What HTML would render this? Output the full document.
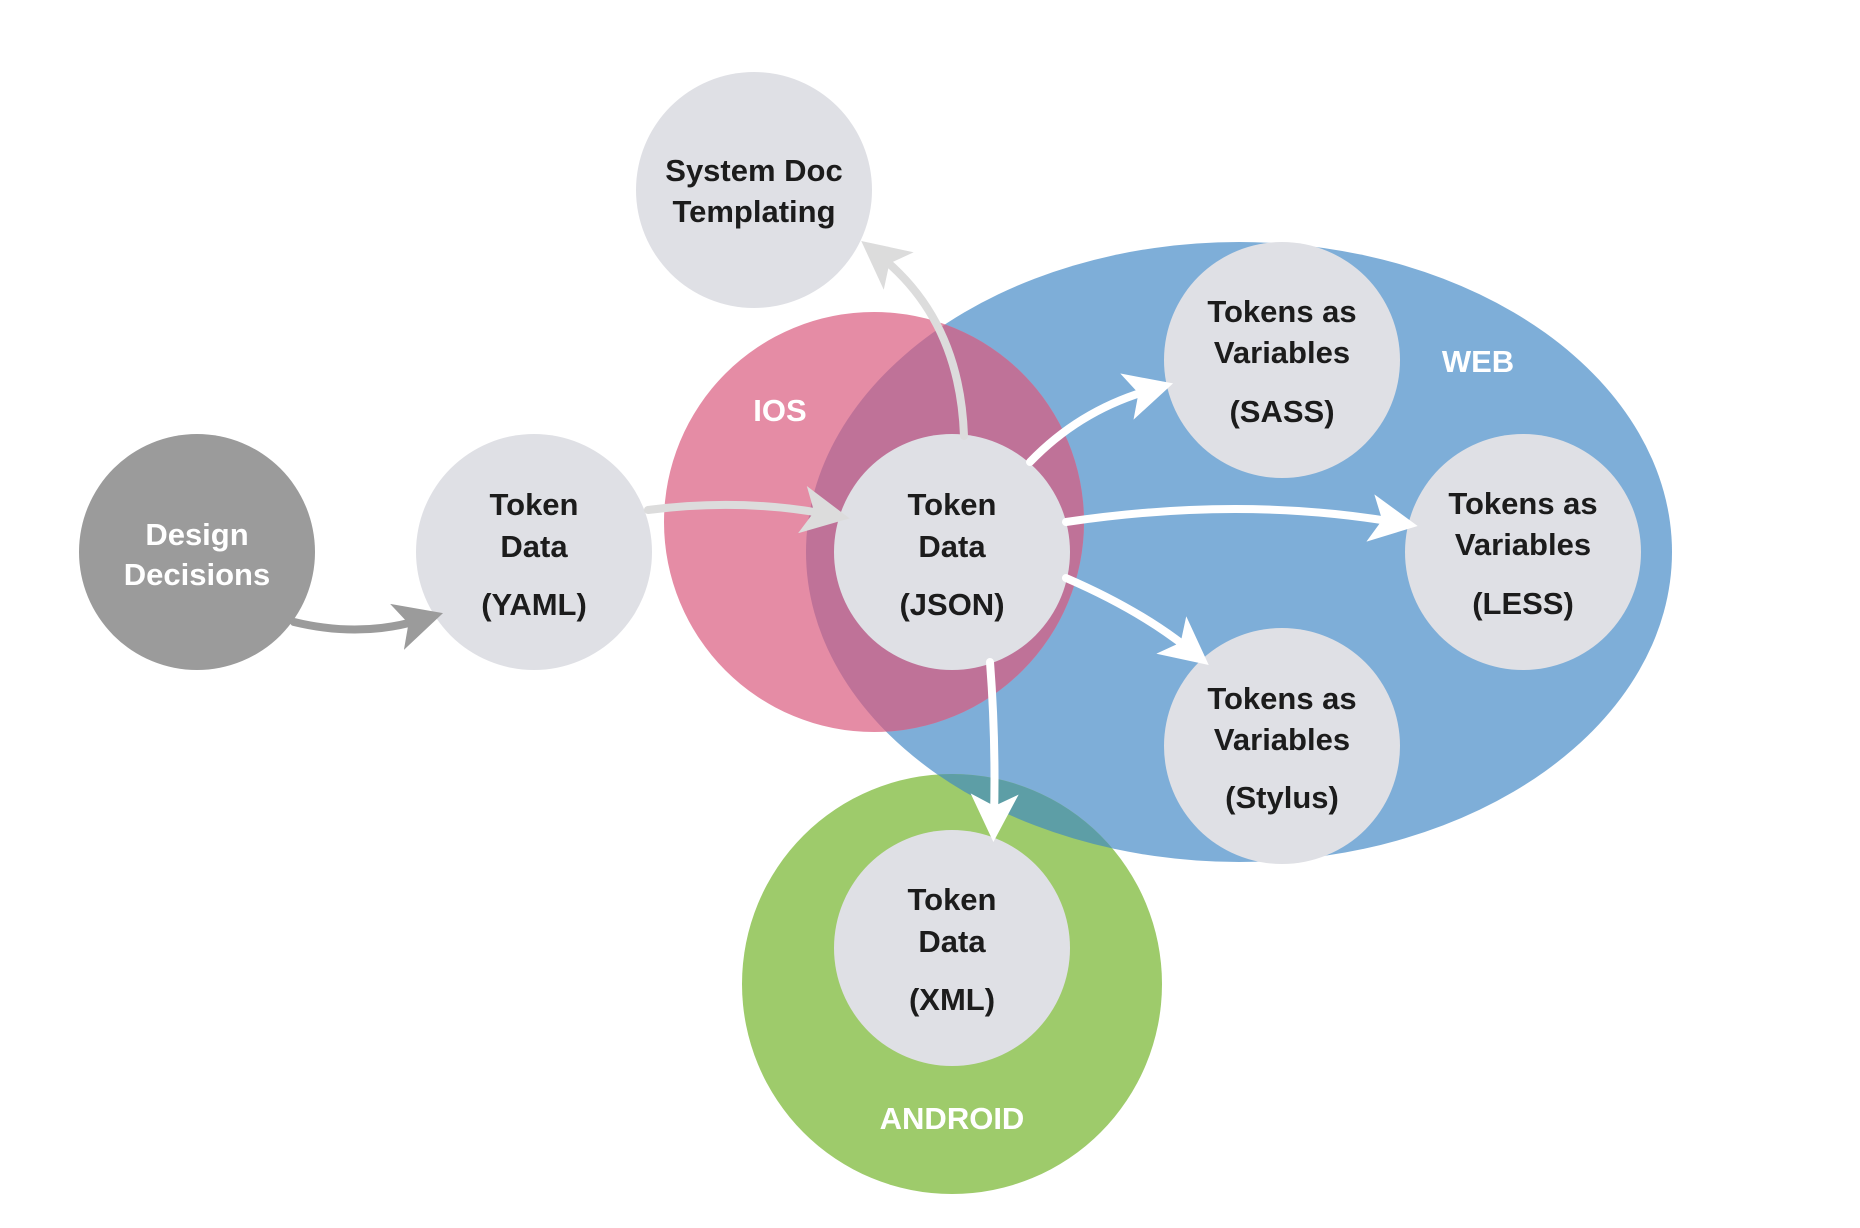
<!DOCTYPE html>
<html><head><meta charset="utf-8"><style>
html,body{margin:0;padding:0;background:#fff;}
svg{display:block;}
text{font-family:"Liberation Sans",sans-serif;font-weight:bold;font-size:31px;text-anchor:middle;fill:#1c1c1c;}
.lbl{fill:#fff;font-size:31px;}
</style></head><body>
<svg width="1860" height="1228" viewBox="0 0 1860 1228">
<defs>
<clipPath id="ios"><circle cx="874" cy="522" r="210"/></clipPath>
<clipPath id="and"><circle cx="952" cy="984" r="210"/></clipPath>
<marker id="mw" markerWidth="6" markerHeight="6" refX="3" refY="3" orient="auto" markerUnits="strokeWidth"><path d="M0,0 L6,3 L0,6 L1.5,3z" fill="#fff"/></marker>
<marker id="ml" markerWidth="6" markerHeight="6" refX="3" refY="3" orient="auto" markerUnits="strokeWidth"><path d="M0,0 L6,3 L0,6 L1.5,3z" fill="#dcdcdc"/></marker>
<marker id="mg" markerWidth="6" markerHeight="6" refX="3" refY="3" orient="auto" markerUnits="strokeWidth"><path d="M0,0 L6,3 L0,6 L1.5,3z" fill="#9b9b9b"/></marker>
</defs>
<ellipse cx="1239" cy="552" rx="433" ry="310" fill="#7eaed8"/>
<circle cx="874" cy="522" r="210" fill="#e58ca5"/>
<ellipse cx="1239" cy="552" rx="433" ry="310" fill="#bf7298" clip-path="url(#ios)"/>
<circle cx="952" cy="984" r="210" fill="#9ecb6b"/>
<ellipse cx="1239" cy="552" rx="433" ry="310" fill="#5d9ea6" clip-path="url(#and)"/>
<text class="lbl" x="780" y="421">IOS</text>
<text class="lbl" x="1478" y="372">WEB</text>
<text class="lbl" x="952" y="1129">ANDROID</text>

<circle cx="197" cy="552" r="118" fill="#9b9b9b"/>
<circle cx="534" cy="552" r="118" fill="#dfe0e5"/>
<circle cx="754" cy="190" r="118" fill="#dfe0e5"/>
<circle cx="952" cy="552" r="118" fill="#dfe0e5"/>
<circle cx="1282" cy="360" r="118" fill="#dfe0e5"/>
<circle cx="1523" cy="552" r="118" fill="#dfe0e5"/>
<circle cx="1282" cy="746" r="118" fill="#dfe0e5"/>
<circle cx="952" cy="948" r="118" fill="#dfe0e5"/>

<g fill="none" stroke-width="8" stroke-linecap="round">
<path d="M294,622 Q360,638 420,620" stroke="#9b9b9b" marker-end="url(#mg)"/>
<path d="M648,510 Q740,498 826,514" stroke="#dcdcdc" marker-end="url(#ml)"/>
<path d="M964,436 Q960,320 880,256" stroke="#dcdcdc" marker-end="url(#ml)"/>
<path d="M1030,462 Q1080,410 1150,390" stroke="#fff" marker-end="url(#mw)"/>
<path d="M1066,522 Q1240,496 1394,522" stroke="#fff" marker-end="url(#mw)"/>
<path d="M1066,578 Q1140,610 1190,650" stroke="#fff" marker-end="url(#mw)"/>
<path d="M990,662 Q996,740 994,818" stroke="#fff" marker-end="url(#mw)"/>
</g>

<text class="lbl" x="197" y="545">Design</text>
<text class="lbl" x="197" y="585">Decisions</text>
<text x="534" y="515">Token</text><text x="534" y="557">Data</text><text x="534" y="615">(YAML)</text>
<text x="754" y="181">System Doc</text><text x="754" y="222">Templating</text>
<text x="952" y="515">Token</text><text x="952" y="557">Data</text><text x="952" y="615">(JSON)</text>
<text x="1282" y="322">Tokens as</text><text x="1282" y="363">Variables</text><text x="1282" y="422">(SASS)</text>
<text x="1523" y="514">Tokens as</text><text x="1523" y="555">Variables</text><text x="1523" y="614">(LESS)</text>
<text x="1282" y="709">Tokens as</text><text x="1282" y="750">Variables</text><text x="1282" y="808">(Stylus)</text>
<text x="952" y="910">Token</text><text x="952" y="952">Data</text><text x="952" y="1010">(XML)</text>
</svg>
</body></html>
